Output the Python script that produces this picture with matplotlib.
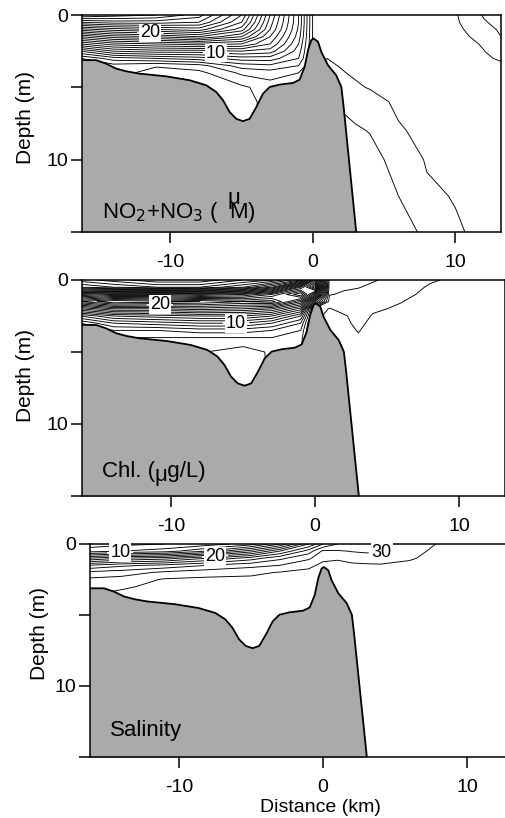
import numpy as np
import matplotlib
matplotlib.use('Agg')
import matplotlib.pyplot as plt

plt.rcParams['font.family'] = ['Liberation Sans', 'DejaVu Sans']
plt.rcParams['axes.unicode_minus'] = False

# --- stations (km) and sample depths (m) of the transect ---
stations = [-16.3, -14, -11, -8, -5, -3, -1, 0, 1, 2, 3, 4, 6, 8, 10, 12, 13.3]
depths = [0, 0.5, 1, 1.5, 2, 2.5, 3, 3.5, 4, 5, 6, 8, 10, 12.5, 15]

# bottom profile
bathy_km = [-16.28, -15.22, -14.52, -13.82, -13.1, -12.2, -10.3, -8.65, -7.48, -6.78,
            -6.3, -5.84, -5.37, -4.9, -4.44, -3.97, -3.5, -3.03, -2.33, -1.4, -0.93,
            -0.58, -0.34, -0.11, 0.05, 0.36, 0.59, 1.06, 1.64, 2.0, 2.16, 3.05]
bathy_m = [3.12, 3.12, 3.36, 3.7, 3.89, 4.05, 4.24, 4.51, 4.86, 5.32,
           5.9, 6.71, 7.18, 7.34, 7.18, 6.37, 5.44, 4.98, 4.81, 4.7, 4.47,
           3.59, 2.43, 1.74, 1.62, 1.85, 2.55, 3.47, 4.17, 4.98, 6.37, 15.09]

# NO2+NO3 (uM), one profile per station
no3 = [
    [29, 25, 20.5, 16, 12, 8, 5, 4.5, 4.5, 4.5, 4.5, 4.5, 4.5, 4.5, 4.5],
    [28.5, 25.5, 21.5, 17.5, 13.5, 10, 6.5, 4.6, 4.4, 4.4, 4.4, 4.4, 4.4, 4.4, 4.4],
    [28, 25.5, 22, 18, 14, 10.5, 7, 4.1, 3.6, 3.6, 3.6, 3.6, 3.6, 3.6, 3.6],
    [26.5, 25, 22.5, 19, 14.5, 10.5, 7.5, 4.6, 3.7, 3.5, 3.5, 3.5, 3.5, 3.5, 3.5],
    [22, 21, 19.5, 17, 14, 11, 8.5, 6.5, 5.2, 3.8, 3.4, 3.3, 3.3, 3.3, 3.3],
    [15, 14.5, 14, 13, 12, 10.5, 8.5, 6.8, 5.5, 4.5, 4.5, 4.5, 4.5, 4.5, 4.5],
    [9, 9, 8.8, 8.5, 8, 7.5, 7, 6, 5, 4.5, 4.5, 4.5, 4.5, 4.5, 4.5],
    [3.9, 3.9, 3.9, 3.9, 3.9, 3.9, 3.9, 3.9, 3.9, 3.9, 3.9, 3.9, 3.9, 3.9, 3.9],
    [3.6, 3.65, 3.7, 3.75, 3.8, 3.9, 4.0, 4.1, 4.2, 4.5, 5, 5.5, 6, 6, 6],
    [3.5, 3.55, 3.6, 3.65, 3.7, 3.8, 3.88, 3.96, 4.05, 4.35, 4.8, 5.4, 5.8, 6, 6],
    [3.48, 3.5, 3.55, 3.58, 3.62, 3.7, 3.76, 3.83, 3.9, 4.1, 4.5, 5.15, 5.6, 5.85, 5.9],
    [3.45, 3.45, 3.5, 3.5, 3.55, 3.6, 3.65, 3.7, 3.75, 3.95, 4.3, 4.95, 5.4, 5.7, 5.8],
    [3.4, 3.4, 3.4, 3.45, 3.45, 3.5, 3.5, 3.55, 3.6, 3.7, 3.85, 4.08, 4.6, 5.0, 5.2],
    [3.35, 3.35, 3.35, 3.35, 3.4, 3.4, 3.4, 3.45, 3.45, 3.5, 3.6, 3.8, 3.92, 4.15, 4.9],
    [3.9, 3.85, 3.75, 3.65, 3.55, 3.5, 3.45, 3.45, 3.45, 3.45, 3.5, 3.6, 3.75, 3.95, 4.1],
    [5.1, 4.9, 4.6, 4.35, 4.1, 3.98, 3.9, 3.85, 3.75, 3.6, 3.55, 3.55, 3.6, 3.7, 3.8],
    [5.6, 5.4, 5.2, 5.05, 4.85, 4.5, 4.1, 3.9, 3.8, 3.6, 3.55, 3.5, 3.5, 3.6, 3.7],
]

# Chl (ug/L)
chl = [
    [4.5, 7, 15, 21, 15, 10, 7, 6, 6, 6, 6, 6, 6, 6, 6],
    [3.5, 6, 16, 23, 17, 12, 9, 7, 6, 6, 6, 6, 6, 6, 6],
    [2.2, 5, 16, 22.5, 17, 12.5, 9.5, 7, 6, 5.5, 5.5, 5.5, 5.5, 5.5, 5.5],
    [2.2, 5, 15, 22, 17.5, 13, 10, 7.5, 6, 5.1, 5.1, 5.1, 5.1, 5.1, 5.1],
    [4, 7, 16, 21, 17, 13, 10, 7.5, 6, 4.4, 4.2, 4.2, 4.2, 4.2, 4.2],
    [5, 10, 18, 21.5, 16, 12, 9, 7, 6, 5.2, 5.2, 5.2, 5.2, 5.2, 5.2],
    [8, 17, 22, 17, 12.5, 9, 7, 6, 5.5, 5.2, 5.2, 5.2, 5.2, 5.2, 5.2],
    [17, 22, 15, 8, 1.5, 1.2, 1.0, 1.0, 1.0, 1.0, 1.0, 1.0, 1.0, 1.0, 1.0],
    [2.6, 2.3, 2.05, 1.6, 0.95, 0.8, 0.7, 0.65, 0.6, 0.6, 0.6, 0.6, 0.6, 0.6, 0.6],
    [2.4, 2.1, 1.9, 1.6, 1.3, 0.9, 0.8, 0.7, 0.6, 0.6, 0.6, 0.6, 0.6, 0.6, 0.6],
    [2.3, 2.05, 1.7, 1.5, 1.4, 1.3, 1.2, 1.05, 0.9, 0.8, 0.7, 0.6, 0.6, 0.6, 0.6],
    [2.1, 1.8, 1.5, 1.3, 1.1, 0.95, 0.8, 0.7, 0.65, 0.6, 0.6, 0.6, 0.6, 0.6, 0.6],
    [1.6, 1.4, 1.2, 1.02, 0.9, 0.8, 0.7, 0.65, 0.6, 0.6, 0.6, 0.6, 0.6, 0.6, 0.6],
    [1.1, 0.9, 0.8, 0.7, 0.65, 0.6, 0.6, 0.6, 0.6, 0.6, 0.6, 0.6, 0.6, 0.6, 0.6],
    [0.8, 0.7, 0.65, 0.6, 0.6, 0.6, 0.6, 0.6, 0.6, 0.6, 0.6, 0.6, 0.6, 0.6, 0.6],
    [0.8, 0.7, 0.6, 0.6, 0.6, 0.6, 0.6, 0.6, 0.6, 0.6, 0.6, 0.6, 0.6, 0.6, 0.6],
    [0.8, 0.7, 0.6, 0.6, 0.6, 0.6, 0.6, 0.6, 0.6, 0.6, 0.6, 0.6, 0.6, 0.6, 0.6],
]

# Salinity
sal = [
    [5, 7, 16, 24, 28.5, 30.4, 31.6, 31.8, 31.8, 31.8, 31.8, 31.8, 31.8, 31.8, 31.8],
    [5.5, 8, 18, 25.5, 29, 30.8, 31.7, 32.4, 32.6, 32.6, 32.6, 32.6, 32.6, 32.6, 32.6],
    [6, 9, 19, 26.5, 30.4, 32.2, 32.6, 32.6, 32.6, 32.6, 32.6, 32.6, 32.6, 32.6, 32.6],
    [7, 12, 22, 28, 31.2, 32.4, 32.6, 32.6, 32.6, 32.6, 32.6, 32.6, 32.6, 32.6, 32.6],
    [9, 17, 25, 29.3, 31.6, 32.4, 32.6, 32.6, 32.6, 32.6, 32.6, 32.6, 32.6, 32.6, 32.6],
    [14, 22, 27.5, 30.0, 32.1, 32.5, 32.6, 32.6, 32.6, 32.6, 32.6, 32.6, 32.6, 32.6, 32.6],
    [22, 27, 29.6, 31.6, 32.4, 32.6, 32.6, 32.6, 32.6, 32.6, 32.6, 32.6, 32.6, 32.6, 32.6],
    [26, 30.4, 31.6, 32.4, 32.6, 32.6, 32.6, 32.6, 32.6, 32.6, 32.6, 32.6, 32.6, 32.6, 32.6],
    [28, 30.2, 31.8, 32.5, 32.6, 32.6, 32.6, 32.6, 32.6, 32.6, 32.6, 32.6, 32.6, 32.6, 32.6],
    [29.5, 29.9, 31.0, 32.5, 32.6, 32.6, 32.6, 32.6, 32.6, 32.6, 32.6, 32.6, 32.6, 32.6, 32.6],
    [29.6, 29.8, 30.6, 32.4, 32.6, 32.6, 32.6, 32.6, 32.6, 32.6, 32.6, 32.6, 32.6, 32.6, 32.6],
    [29.7, 29.85, 30.5, 32.3, 32.6, 32.6, 32.6, 32.6, 32.6, 32.6, 32.6, 32.6, 32.6, 32.6, 32.6],
    [31, 31.4, 31.8, 32.4, 32.6, 32.6, 32.6, 32.6, 32.6, 32.6, 32.6, 32.6, 32.6, 32.6, 32.6],
    [32.1, 32.4, 32.6, 32.6, 32.6, 32.6, 32.6, 32.6, 32.6, 32.6, 32.6, 32.6, 32.6, 32.6, 32.6],
    [32.5, 32.6, 32.6, 32.6, 32.6, 32.6, 32.6, 32.6, 32.6, 32.6, 32.6, 32.6, 32.6, 32.6, 32.6],
    [32.5, 32.6, 32.6, 32.6, 32.6, 32.6, 32.6, 32.6, 32.6, 32.6, 32.6, 32.6, 32.6, 32.6, 32.6],
    [32.5, 32.6, 32.6, 32.6, 32.6, 32.6, 32.6, 32.6, 32.6, 32.6, 32.6, 32.6, 32.6, 32.6, 32.6],
]

W, H = 506, 818
fig = plt.figure(figsize=(W / 100, H / 100), dpi=100)

# axes boxes in pixels: left, top, width, height
boxes = [(82, 15, 419, 217), (82, 280, 423, 216), (90, 544, 423, 213)]

panels = [
    dict(field=no3, levels=np.arange(1, 29, 1), labels=[10, 20],
         spots=[(-11.4, 1.2), (-6.8, 2.56)]),
    dict(field=chl, levels=np.arange(1, 24, 1), labels=[10, 20],
         spots=[(-10.8, 1.75), (-5.5, 2.85)]),
    dict(field=sal, levels=np.arange(6, 33, 2), labels=[10, 20, 30],
         spots=[(-14.1, 0.62), (-7.5, 0.9), (4.1, 0.62)]),
]

axes = []
for (l, t, w, h), p in zip(boxes, panels):
    ax = fig.add_axes([l / W, 1 - (t + h) / H, w / W, h / H])
    axes.append(ax)
    X, Z = np.meshgrid(stations, depths)
    V = np.array(p['field']).T
    plain = [v for v in p['levels'] if v not in p['labels']]
    ax.contour(X, Z, V, levels=plain, colors='k', linewidths=0.65, zorder=1)
    cs = ax.contour(X, Z, V, levels=p['labels'], colors='k', linewidths=0.65, zorder=1)
    ax.fill_between(bathy_km, bathy_m, 16, color='#aaaaaa', lw=0, zorder=2)
    ax.plot(bathy_km, bathy_m, color='k', lw=1.3, zorder=3)
    texts = ax.clabel(cs, manual=p['spots'], inline=True, fmt='%d',
                      fontsize=13, inline_spacing=3, zorder=4)
    for tx in texts:
        tx.set_rotation(0)
        tx.set_clip_on(False)
        tx.set_bbox(dict(boxstyle='square,pad=0.05', fc='white', ec='none'))
    ax.set_xlim(-16.2, 13.2)
    ax.set_ylim(15, 0)
    ax.set_xticks([-10, 0, 10])
    ax.set_yticks([0, 5, 10, 15])
    ax.set_yticklabels(['0', '', '10', ''])
    ax.tick_params(direction='out', length=8, width=1.1, labelsize=14)
    ax.tick_params(axis='x', pad=8)
    ax.tick_params(axis='y', pad=2)
    for s in ax.spines.values():
        s.set_linewidth(1.1)

# axis titles
fig.text(26 / W, 1 - 117 / H, 'Depth (m)', rotation=90, ha='center', va='center', fontsize=15)
fig.text(26 / W, 1 - 375 / H, 'Depth (m)', rotation=90, ha='center', va='center', fontsize=15)
fig.text(40 / W, 1 - 634 / H, 'Depth (m)', rotation=90, ha='center', va='center', fontsize=15)
fig.text(320 / W, 1 - 808 / H, 'Distance (km)', ha='center', va='center', fontsize=14)

# panel names
fig.text(102 / W, 1 - 218 / H, 'NO$_2$+NO$_3$ (  M)', ha='left', va='baseline', fontsize=16)
fig.text(228 / W, 1 - 204 / H, '\u03bc', ha='left', va='baseline', fontsize=16)
fig.text(102 / W, 1 - 477 / H, 'Chl. (  g/L)', ha='left', va='baseline', fontsize=16)
fig.text(155 / W, 1 - 481 / H, '\u03bc', ha='left', va='baseline', fontsize=16)
fig.text(110 / W, 1 - 736 / H, 'Salinity', ha='left', va='baseline', fontsize=16)

fig.savefig('out.png', dpi=100)
